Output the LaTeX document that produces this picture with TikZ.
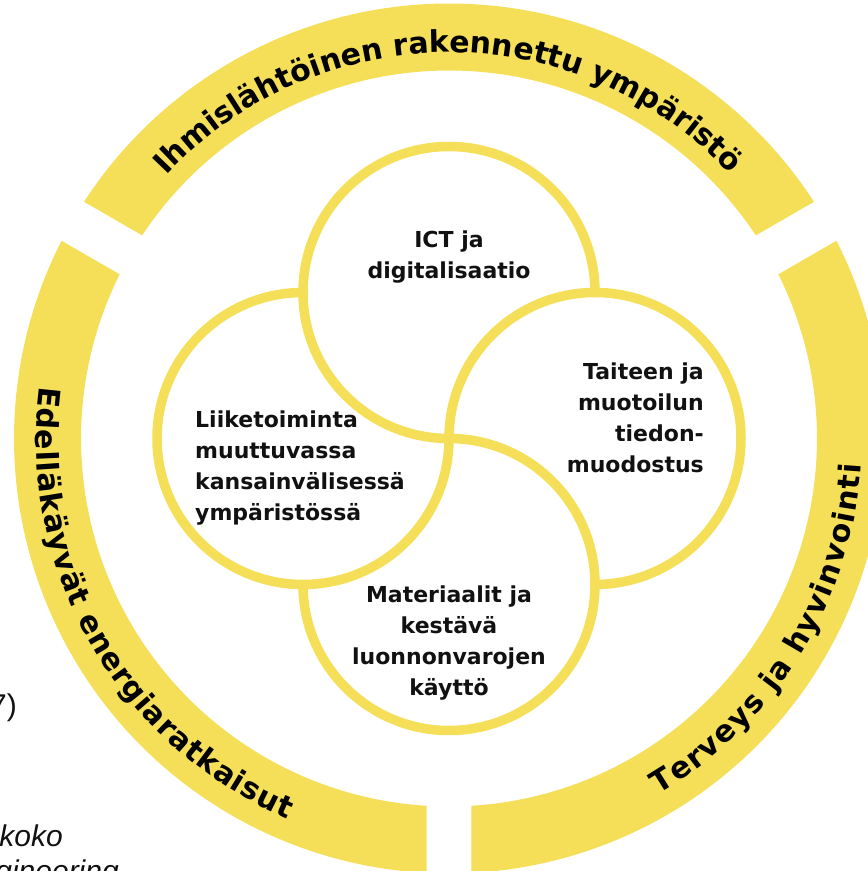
\documentclass[tikz,border=0pt]{standalone}
\usepackage{fontspec}
\setmainfont{DejaVu Sans}
\newfontfamily\bgfont{Liberation Sans}
\usetikzlibrary{decorations.text}
\definecolor{ringyellow}{RGB}{245,223,88}
\definecolor{inkblack}{RGB}{17,17,17}
\begin{document}
\begin{tikzpicture}[x=1pt,y=1pt,
  ringseg/.style={fill=ringyellow, draw=none},
  petal/.style={draw=ringyellow, line width=9.5pt},
  label/.style={inner sep=0pt, font=\fontsize{22}{31}\selectfont\bfseries, text=inkblack},
  ringtext/.style={decorate, decoration={text along path, text align=fit to path,
      text={|\fontsize{30}{36}\selectfont\bfseries|#1}}},
  bgtext/.style={inner sep=0pt, font=\bgfont\fontsize{30}{36}\selectfont, text=inkblack}
]
\useasboundingbox (0,0) rectangle (868,871);
\begin{scope}[shift={(449,432.5)}]
  % outer ring segments
  \fill[ringseg] (32.965:435) arc[start angle=32.965, end angle=147.035, radius=435]
     -- (146.495:368) arc[start angle=146.495, end angle=33.505, radius=368] -- cycle;
  \fill[ringseg] (152.965:435) arc[start angle=152.965, end angle=267.035, radius=435]
     -- (266.495:368) arc[start angle=266.495, end angle=153.505, radius=368] -- cycle;
  \fill[ringseg] (272.965:435) arc[start angle=272.965, end angle=387.035, radius=435]
     -- (386.495:368) arc[start angle=386.495, end angle=273.505, radius=368] -- cycle;
  % ring labels
  \path[ringtext={Ihmislähtöinen rakennettu ympäristö}]
     (137.1:386) arc[start angle=137.1, end angle=43.5, radius=386];
  \path[ringtext={Edelläkäyvät energiaratkaisut}]
     (172.7:413) arc[start angle=172.7, end angle=247, radius=413];
  \path[ringtext={Terveys ja hyvinvointi}]
     (300.5:413) arc[start angle=300.5, end angle=356.4, radius=413];
  % pinwheel circles
  \draw[petal] (146,146) arc[start angle=0, end angle=270, radius=146];
  \draw[petal] (146,-146) arc[start angle=-90, end angle=180, radius=146];
  \draw[petal] (-146,-146) arc[start angle=180, end angle=450, radius=146];
  \draw[petal] (-146,146) arc[start angle=90, end angle=360, radius=146];
\end{scope}
% inner labels
\node[label, align=center, anchor=north] (ict) at (449,640.5) {ICT ja\\digitalisaatio};
\node[label, align=left, anchor=north west] (biz) at (195,460.5) {Liiketoiminta\\muuttuvassa\\kansainvälisessä\\ympäristössä};
\node[label, align=right, anchor=north east] (art) at (704,508.5) {Taiteen ja\\muotoilun\\tiedon-\\muodostus};
\node[label, align=center, anchor=north] (mat) at (449,285.5) {Materiaalit ja\\kestävä\\luonnonvarojen\\käyttö};
% cut-off background text
\node[bgtext, anchor=base east] (seven) at (17,155) {7)};
\node[bgtext, anchor=base east] (koko) at (63,24) {\itshape koko};
\node[bgtext, anchor=base east] (eng) at (119,-10) {\itshape gineering};
\end{tikzpicture}
\end{document}
